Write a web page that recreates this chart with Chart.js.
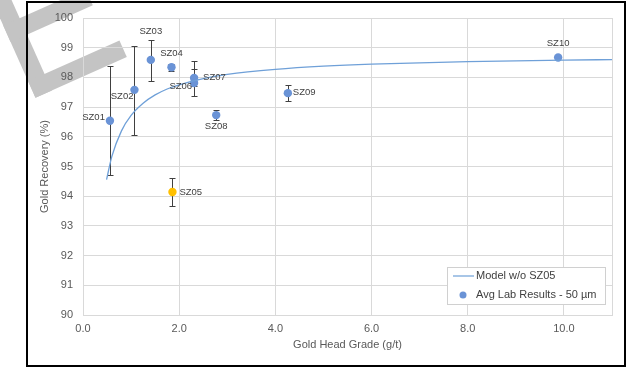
<!DOCTYPE html>
<html>
<head>
<meta charset="utf-8">
<script src="https://cdn.jsdelivr.net/npm/chart.js@4"></script>
<style>
  body { margin: 0; background: #fff; }
  canvas { display: block; }
</style>
</head>
<body>
<canvas id="grafica" width="631" height="367"></canvas>
<script>
// datos
const muestras = ["SZ01", "SZ02", "SZ03", "SZ04", "SZ05", "SZ06", "SZ07", "SZ08", "SZ09", "SZ10"];
const leyCabeza = [0.56, 1.07, 1.41, 1.84, 1.86, 2.31, 2.31, 2.77, 4.26, 9.88];
const recuperacion = [96.54, 97.58, 98.59, 98.34, 94.14, 97.81, 97.98, 96.73, 97.47, 98.67];
const errorAlto = [98.37, 99.05, 99.26, 98.45, 94.6, 98.28, 98.56, 96.89, 97.76, null];
const errorBajo = [94.7, 96.07, 97.89, 98.2, 93.68, 97.38, 97.7, 96.57, 97.19, null];

const modeloX = [0.49, 0.6, 0.8, 1.0, 1.25, 1.5, 1.75, 2.0, 2.5, 3.0, 4.0, 5.0, 6.0, 8.0, 10.0, 11.0];
const modeloY = [94.56, 95.34, 96.2, 96.72, 97.13, 97.41, 97.61, 97.75, 97.96, 98.1, 98.27, 98.38, 98.45, 98.53, 98.58, 98.6];

const ticksX = [0, 2, 4, 6, 8, 10];

const fuente = "'Liberation Sans', Arial, sans-serif";
const azulPunto = "#6a93d6";
const naranja = "#ffc000";
const azulLinea = "#6fa0d8";

// donde va cada etiqueta respecto al punto
const etiquetaDx = [-5, -1, 0, 0, 7, -2, 9, 0, 5, 0];
const etiquetaDy = [-3, 7, -29, -14, 0, 3, -1, 11, -1, -14];
const etiquetaAlign = ["right", "right", "center", "center", "left", "right", "left", "center", "left", "center"];

const fondo = {
  id: "fondo",
  beforeDraw(chart) {
    const ctx = chart.ctx;
    ctx.save();
    ctx.fillStyle = "#fff";
    ctx.fillRect(0, 0, chart.width, chart.height);
    // marca de agua (una "E" girada, cortada por el borde)
    ctx.translate(-22, -31);
    ctx.rotate(-0.42);
    ctx.fillStyle = "#c4c4c4";
    ctx.fillRect(0, 0, 18, 141);
    ctx.fillRect(0, 0, 100, 18);
    ctx.fillRect(0, 62, 90, 18);
    ctx.fillRect(0, 123, 100, 18);
    ctx.restore();
  },
  afterDraw(chart) {
    const ctx = chart.ctx;
    ctx.save();
    ctx.strokeStyle = "#000";
    ctx.lineWidth = 2;
    ctx.strokeRect(27, 2, 598, 364);
    ctx.restore();
  },
};

const barrasError = {
  id: "barrasError",
  beforeDatasetsDraw(chart) {
    const ctx = chart.ctx;
    const x = chart.scales.x;
    const y = chart.scales.y;
    ctx.save();
    ctx.strokeStyle = "#404040";
    ctx.lineWidth = 1;
    muestras.forEach((m, i) => {
      if (errorAlto[i] === null) return;
      const px = Math.round(x.getPixelForValue(leyCabeza[i])) + 0.5;
      const top = Math.round(y.getPixelForValue(errorAlto[i])) + 0.5;
      const bot = Math.round(y.getPixelForValue(errorBajo[i])) + 0.5;
      ctx.beginPath();
      ctx.moveTo(px, top);
      ctx.lineTo(px, bot);
      ctx.moveTo(px - 3, top);
      ctx.lineTo(px + 3, top);
      ctx.moveTo(px - 3, bot);
      ctx.lineTo(px + 3, bot);
      ctx.stroke();
    });
    ctx.restore();
  },
};

const etiquetas = {
  id: "etiquetas",
  afterDatasetsDraw(chart) {
    const ctx = chart.ctx;
    const meta = chart.getDatasetMeta(1);
    ctx.save();
    ctx.font = "9.5px " + fuente;
    ctx.fillStyle = "#404040";
    ctx.textBaseline = "middle";
    meta.data.forEach((p, i) => {
      ctx.textAlign = etiquetaAlign[i];
      ctx.fillText(muestras[i], p.x + etiquetaDx[i], p.y + etiquetaDy[i]);
    });
    ctx.restore();
  },
};

const leyenda = {
  id: "leyenda",
  afterDraw(chart) {
    const ctx = chart.ctx;
    const a = chart.chartArea;
    const left = a.right - 165;
    const top = a.bottom - 48;
    ctx.save();
    ctx.fillStyle = "#fff";
    ctx.fillRect(left, top, 158, 37);
    ctx.strokeStyle = "#d0d0d0";
    ctx.lineWidth = 1;
    ctx.strokeRect(left + 0.5, top + 0.5, 158, 37);
    ctx.strokeStyle = azulLinea;
    ctx.lineWidth = 1.2;
    ctx.beginPath();
    ctx.moveTo(left + 6, top + 9);
    ctx.lineTo(left + 27, top + 9);
    ctx.stroke();
    ctx.fillStyle = azulPunto;
    ctx.beginPath();
    ctx.arc(left + 16, top + 28, 3.5, 0, Math.PI * 2);
    ctx.fill();
    ctx.font = "11px " + fuente;
    ctx.fillStyle = "#404040";
    ctx.textBaseline = "middle";
    ctx.fillText(chart.data.datasets[0].label, left + 29, top + 9);
    ctx.fillText(chart.data.datasets[1].label, left + 29, top + 28);
    ctx.restore();
  },
};

const configuracion = {
  type: "scatter",
  data: {
    datasets: [
      {
        label: "Model w/o SZ05",
        data: modeloX.map((v, i) => ({ x: v, y: modeloY[i] })),
        showLine: true,
        borderColor: azulLinea,
        borderWidth: 1.3,
        pointRadius: 0,
        cubicInterpolationMode: "monotone",
      },
      {
        label: "Avg Lab Results - 50 µm",
        data: leyCabeza.map((v, i) => ({ x: v, y: recuperacion[i] })),
        backgroundColor: muestras.map((m) => (m === "SZ05" ? naranja : azulPunto)),
        borderColor: muestras.map((m) => (m === "SZ05" ? naranja : azulPunto)),
        pointRadius: 4.2,
        pointBorderWidth: 0,
      },
    ],
  },
  options: {
    responsive: false,
    animation: false,
    devicePixelRatio: 1,
    layout: { padding: { left: 27, top: 18, right: 19, bottom: 0 } },
    plugins: {
      legend: { display: false },
      tooltip: { enabled: false },
    },
    scales: {
      x: {
        type: "linear",
        min: 0,
        max: 11,
        afterBuildTicks(scale) {
          scale.ticks = ticksX.concat([11]).map((v) => ({ value: v }));
        },
        afterFit(scale) {
          scale.height = 52;
        },
        ticks: {
          callback: (v) => (ticksX.includes(v) ? v.toFixed(1) : ""),
          font: { family: fuente, size: 11 },
          color: "#595959",
          padding: 7,
        },
        grid: { color: "#d9d9d9", drawTicks: false },
        border: { color: "#d9d9d9" },
        title: {
          display: true,
          text: "Gold Head Grade (g/t)",
          font: { family: fuente, size: 11 },
          color: "#595959",
          padding: { top: 0, bottom: 15 },
        },
      },
      y: {
        min: 90,
        max: 100,
        ticks: {
          stepSize: 1,
          font: { family: fuente, size: 11 },
          color: "#595959",
          padding: 10,
        },
        afterFit(scale) {
          scale.width = 56;
        },
        grid: { color: "#d9d9d9", drawTicks: false },
        border: { color: "#d9d9d9" },
        title: {
          display: true,
          text: "Gold Recovery (%)",
          font: { family: fuente, size: 11 },
          color: "#595959",
          padding: { top: 11, bottom: 0 },
        },
      },
    },
  },
  plugins: [fondo, barrasError, etiquetas, leyenda],
};

const grafica = new Chart(document.querySelector("#grafica"), configuracion);
</script>
</body>
</html>
